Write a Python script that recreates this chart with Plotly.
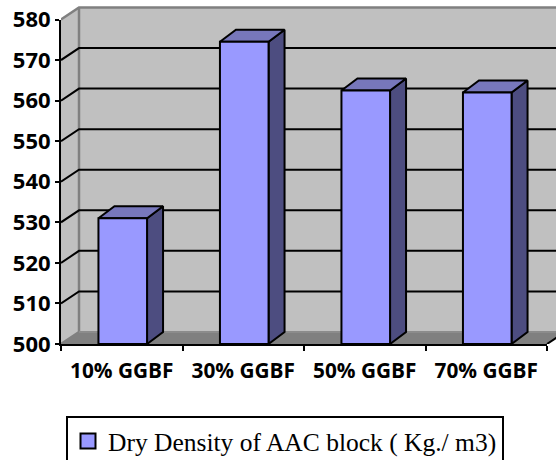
import plotly.graph_objects as go

categories = ["10% GGBF", "30% GGBF", "50% GGBF", "70% GGBF"]
density = [531, 574.5, 562.5, 562]
y_ticks = [500, 510, 520, 530, 540, 550, 560, 570, 580]
series_name = "Dry Density of AAC block ( Kg./ m3)"

W, H = 556, 460
L, T, B = 61, 6, 116.3
FRONT_W, FRONT_H = 486, 324.2
plot_w, plot_h = W - L, H - T - B
px_x = FRONT_W / len(categories)
px_y = FRONT_H / (y_ticks[-1] - y_ticks[0])
x0, x1 = -0.5, len(categories) - 0.5
y0, y1 = y_ticks[0], y_ticks[-1]
WALL_DX = 18 / px_x
WALL_DY = 12 / px_y
BAR_DX = 16 / px_x
BAR_DY = 12 / px_y
BAR_W = 0.4
BAR_SHIFT = 1 / px_x

fig = go.Figure()

def poly(xs, ys, fill, line=None, width=0):
    fig.add_trace(go.Scatter(
        x=xs + xs[:1], y=ys + ys[:1], mode="lines", fill="toself", fillcolor=fill,
        line=dict(color=line or fill, width=width),
        showlegend=False, hoverinfo="skip"))

def seg(xs, ys, color="black", width=2):
    fig.add_trace(go.Scatter(
        x=xs, y=ys, mode="lines", line=dict(color=color, width=width),
        showlegend=False, hoverinfo="skip"))

# side wall, back wall, floor
poly([x0, x0 + WALL_DX, x0 + WALL_DX, x0],
     [y0, y0 + WALL_DY, y1 + WALL_DY, y1], "#C0C0C0")
poly([x0 + WALL_DX, x1 + WALL_DX, x1 + WALL_DX, x0 + WALL_DX],
     [y0 + WALL_DY, y0 + WALL_DY, y1 + WALL_DY, y1 + WALL_DY], "#C0C0C0")
poly([x0, x1, x1 + WALL_DX, x0 + WALL_DX],
     [y0, y0, y0 + WALL_DY, y0 + WALL_DY], "#808080")

# wall edges
seg([x0, x0 + WALL_DX, x1 + WALL_DX], [y1, y1 + WALL_DY, y1 + WALL_DY], "#808080", 2.5)
seg([x0, x0 + WALL_DX, x0 + WALL_DX], [y0, y0 + WALL_DY, y1 + WALL_DY], "#808080", 2.5)
seg([x0 + WALL_DX, x1 + WALL_DX], [y0 + WALL_DY, y0 + WALL_DY], "#8C8C8C", 2)

# gridlines
for t in y_ticks[1:-1]:
    seg([x0, x0 + WALL_DX, x1 + WALL_DX], [t, t + WALL_DY, t + WALL_DY], "black", 2)
seg([x1, x1 + WALL_DX], [y0, y0 + WALL_DY], "black", 2)

# bars
for i, v in enumerate(density):
    a = i - BAR_W / 2 + BAR_SHIFT
    b = i + BAR_W / 2 + BAR_SHIFT
    poly([b, b + BAR_DX, b + BAR_DX, b], [y0, y0 + BAR_DY, v + BAR_DY, v], "#4D4D80", "black", 2)
    poly([a, b, b + BAR_DX, a + BAR_DX], [v, v, v + BAR_DY, v + BAR_DY], "#7777BB", "black", 2)
    poly([a, b, b, a], [y0, y0, v, v], "#9999FF", "black", 2)

# legend entry on the visible axes
fig.add_trace(go.Scatter(
    x=[None], y=[None], mode="markers", name=series_name, xaxis="x2", yaxis="y2",
    marker=dict(symbol="square", size=15, color="#9999FF", line=dict(color="black", width=2))))

x_tick_font = dict(family="Open Sans", size=20.8, color="black", weight="bold")
y_tick_font = dict(family="Open Sans", size=22, color="black", weight="bold")
fig.update_layout(
    width=W, height=H, autosize=False,
    margin=dict(l=L, r=0, t=T, b=B, pad=0, autoexpand=False),
    paper_bgcolor="white", plot_bgcolor="rgba(0,0,0,0)",
    showlegend=True,
    legend=dict(x=(66 - L) / plot_w, xref="paper", xanchor="left",
                y=1 - 416 / H, yref="container", yanchor="top",
                bgcolor="white", bordercolor="black", borderwidth=2,
                font=dict(family="Liberation Serif", size=25.5, color="black"),
                itemclick=False, itemdoubleclick=False),
    xaxis=dict(domain=[0, 1], range=[x0, x0 + plot_w / px_x], visible=False),
    yaxis=dict(domain=[0, 1], range=[y0, y0 + plot_h / px_y], visible=False),
    xaxis2=dict(domain=[0, FRONT_W / plot_w], range=[x0, x1], anchor="y2",
               tickvals=list(range(len(categories))), ticktext=categories,
               showgrid=False, zeroline=False, showline=True, linecolor="black", linewidth=2,
               ticks="", tickfont=x_tick_font, ticklabelstandoff=7,
               minor=dict(tickvals=[i - 0.5 for i in range(len(categories) + 1)],
                          ticks="outside", ticklen=5, tickwidth=2, tickcolor="black", showgrid=False)),
    yaxis2=dict(domain=[0, FRONT_H / plot_h], range=[y0, y1], tickvals=y_ticks, anchor="x2",
               showgrid=False, zeroline=False, showline=True, linecolor="black", linewidth=2,
               ticks="outside", ticklen=4, tickwidth=2, tickcolor="black", tickfont=y_tick_font),
)
fig.write_html("out.html", config=dict(displayModeBar=False),
               post_script="document.body.style.margin='0';")
